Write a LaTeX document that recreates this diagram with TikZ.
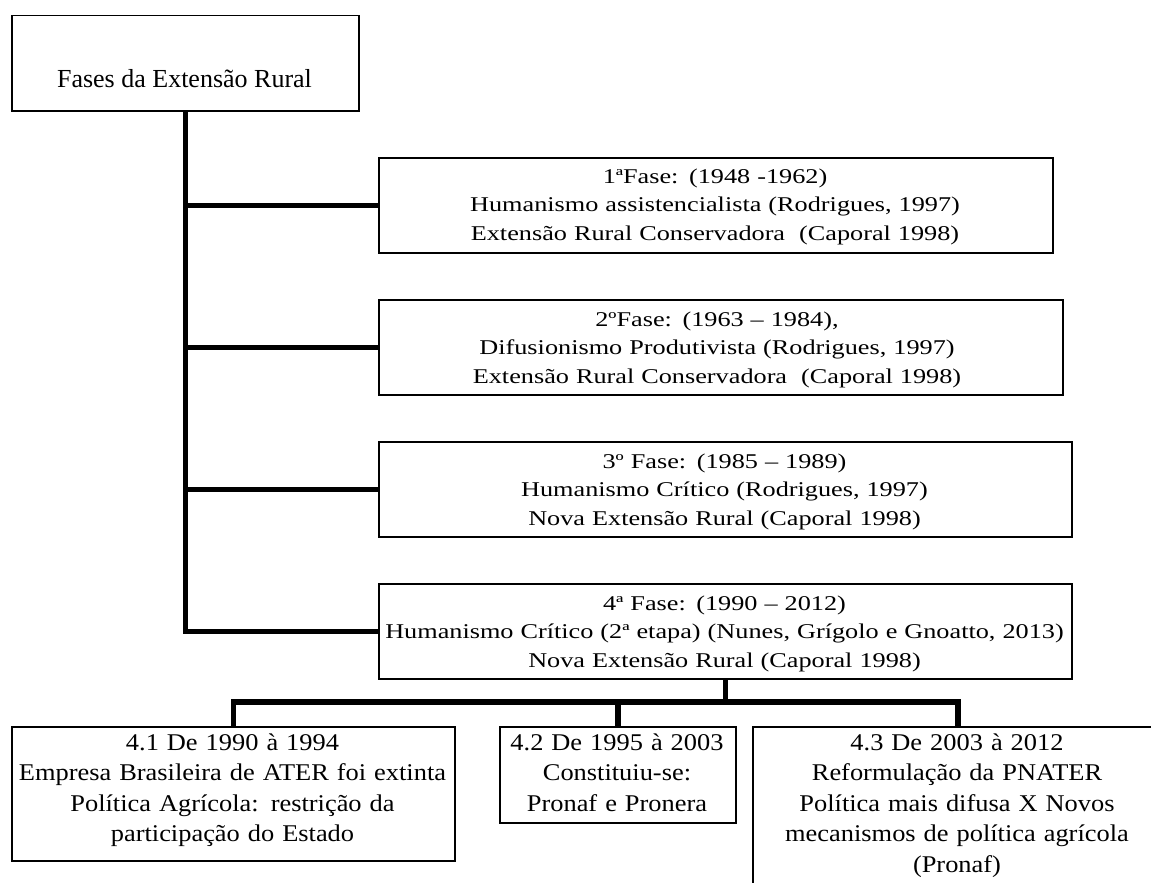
\documentclass[tikz,border=0pt]{standalone}
\usepackage{fontspec}
\setmainfont{Liberation Serif}
\newfontfamily\phasefont[FakeStretch=1.25]{Liberation Serif}
\newfontfamily\subfont[FakeStretch=1.1]{Liberation Serif}
\begin{document}
\begin{tikzpicture}[x=1pt,y=-1pt,
  box/.style={draw, line width=1.5pt, inner sep=0pt, anchor=north west},
  txt/.style={inner sep=0pt, align=center, anchor=base},
  phasetxt/.style={txt, text width=700pt, font=\phasefont\fontsize{21}{28.5}\selectfont},
  subtxt/.style={txt, font=\subfont\fontsize{24}{30.5}\selectfont},
  conn/.style={line width=5.5pt},
]
\useasboundingbox (0,0) rectangle (1151,883);
\clip (0,0) rectangle (1151,883);
% boxes
\node[box, minimum width=347pt, minimum height=95pt] (top) at (11,15) {};
\node[box, minimum width=674pt, minimum height=95pt] (p1) at (378,157) {};
\node[box, minimum width=684pt, minimum height=95pt] (p2) at (378,299) {};
\node[box, minimum width=693pt, minimum height=95pt] (p3) at (378,441) {};
\node[box, minimum width=693pt, minimum height=95pt] (p4) at (378,583) {};
\node[box, minimum width=443pt, minimum height=134pt] (s1) at (11,726) {};
\node[box, minimum width=236pt, minimum height=96pt] (s2) at (499,726) {};
\node[box, minimum width=410pt, minimum height=180pt] (s3) at (752,726) {};
% texts
\node[txt, font=\fontsize{26}{30}\selectfont] (ttop) at (184.5,87) {Fases da Extensão Rural};
\node[phasetxt] (t1) at (715,183) {1ªFase: (1948 -1962)\\Humanismo assistencialista (Rodrigues, 1997)\\Extensão Rural Conservadora\ \ (Caporal 1998)};
\node[phasetxt] (t2) at (717,326) {2ºFase: (1963 – 1984),\\Difusionismo Produtivista (Rodrigues, 1997)\\Extensão Rural Conservadora\ \ (Caporal 1998)};
\node[phasetxt] (t3) at (724.5,468) {3º Fase: (1985 – 1989)\\Humanismo Crítico (Rodrigues, 1997)\\Nova Extensão Rural (Caporal 1998)};
\node[phasetxt] (t4) at (724.5,610) {4ª Fase: (1990 – 2012)\\Humanismo Crítico (2ª etapa) (Nunes, Grígolo e Gnoatto, 2013)\\Nova Extensão Rural (Caporal 1998)};
\node[subtxt, text width=440pt] (u1) at (232.5,750) {4.1 De 1990 à 1994\\Empresa Brasileira de ATER foi extinta\\Política Agrícola: restrição da\\participação do Estado};
\node[subtxt, text width=234pt] (u2) at (617,750) {4.2 De 1995 à 2003\\Constituiu-se:\\Pronaf e Pronera};
\node[subtxt, text width=400pt] (u3) at (957,750) {4.3 De 2003 à 2012\\Reformulação da PNATER\\Política mais difusa X Novos\\mecanismos de política agrícola\\(Pronaf)};
% connectors
\draw[conn] (top.south) |- (p4.west);
\draw[conn] (top.south |- p1.west) -- (p1.west);
\draw[conn] (top.south |- p2.west) -- (p2.west);
\draw[conn] (top.south |- p3.west) -- (p3.west);
\coordinate (bar) at (0,702);
\draw[conn] (s1.north) |- (bar -| s3.north) -- (s3.north);
\draw[conn] (s2.north) -- (s2.north |- bar);
\draw[conn] (p4.south) -- (p4.south |- bar);
\end{tikzpicture}
\end{document}
